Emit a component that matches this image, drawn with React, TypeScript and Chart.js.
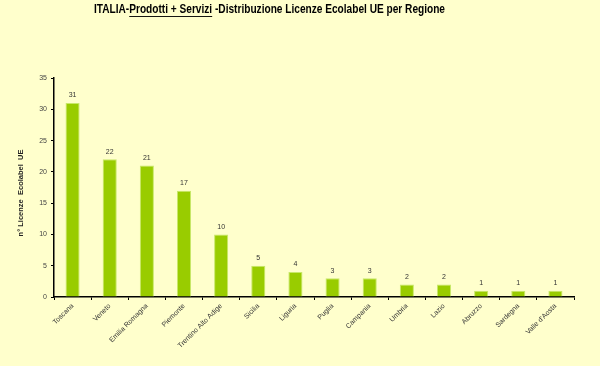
import React, { useEffect, useRef } from "react";
import { Chart, registerables } from "chart.js";

Chart.register(...registerables);

const regions = [
  "Toscana",
  "Veneto",
  "Emilia Romagna",
  "Piemonte",
  "Trentino Alto Adige",
  "Sicilia",
  "Liguria",
  "Puglia",
  "Campania",
  "Umbria",
  "Lazio",
  "Abruzzo",
  "Sardegna",
  "Valle d'Aosta",
];
const licenses = [31, 22, 21, 17, 10, 5, 4, 3, 3, 2, 2, 1, 1, 1];
const yTicks = [0, 5, 10, 15, 20, 25, 30, 35];

const titlePre = "ITALIA-";
const titleUnder = "Prodotti + Servizi";
const titlePost = " -Distribuzione Licenze Ecolabel UE per Regione";
const yTitle = "n° Licenze  Ecolabel  UE";

const BG = "#FFFFCC";

const decorPlugin = {
  id: "decor",
  beforeDraw(chart: any) {
    const { ctx, width, height } = chart;
    ctx.save();
    ctx.fillStyle = BG;
    ctx.fillRect(0, 0, width, height);
    ctx.restore();
  },
  afterDraw(chart: any) {
    const { ctx } = chart;
    // title
    ctx.save();
    ctx.font = "bold 12px 'Liberation Sans', Arial, sans-serif";
    ctx.fillStyle = "#000";
    ctx.textBaseline = "middle";
    const w1 = ctx.measureText(titlePre).width;
    const w2 = ctx.measureText(titleUnder).width;
    const w3 = ctx.measureText(titlePost).width;
    const total = w1 + w2 + w3;
    const target = 351;
    const sx = target / total;
    const x0 = 94;
    const y0 = 10;
    ctx.translate(x0, y0);
    ctx.scale(sx, 1);
    ctx.textAlign = "left";
    ctx.fillText(titlePre, 0, 0);
    ctx.fillText(titleUnder, w1, 0);
    ctx.fillText(titlePost, w1 + w2, 0);
    ctx.strokeStyle = "#000";
    ctx.lineWidth = 1;
    ctx.beginPath();
    ctx.moveTo(w1, 6.5);
    ctx.lineTo(w1 + w2, 6.5);
    ctx.stroke();
    ctx.restore();

    // y title
    ctx.save();
    ctx.font = "bold 7.5px 'Liberation Sans', Arial, sans-serif";
    ctx.fillStyle = "#222";
    ctx.textAlign = "center";
    ctx.textBaseline = "middle";
    ctx.translate(21, 193);
    ctx.rotate(-Math.PI / 2);
    ctx.fillText(yTitle, 0, 0);
    ctx.restore();

    // value labels
    const meta = chart.getDatasetMeta(0);
    ctx.save();
    ctx.font = "7px 'Liberation Sans', Arial, sans-serif";
    ctx.fillStyle = "#333";
    ctx.textAlign = "center";
    ctx.textBaseline = "bottom";
    meta.data.forEach((bar: any, i: number) => {
      ctx.fillText(String(licenses[i]), bar.x, bar.y - 4);
    });
    ctx.restore();
  },
};

export default function App() {
  const ref = useRef<HTMLCanvasElement>(null);
  useEffect(() => {
    document.body.style.margin = "0";
    document.body.style.background = BG;
    const canvas = ref.current!;
    const chart = new Chart(canvas, {
      type: "bar",
      data: {
        labels: regions,
        datasets: [
          {
            data: licenses,
            backgroundColor: "#99CC00",
            borderColor: "#C8E86A",
            borderWidth: 1,
            categoryPercentage: 1,
            barPercentage: 0.38,
          },
        ],
      },
      options: {
        responsive: false,
        animation: false,
        devicePixelRatio: 1,
        layout: { padding: { top: 78, right: 26, left: 0, bottom: 0 } },
        plugins: {
          legend: { display: false },
          title: { display: false },
          tooltip: { enabled: false },
        },
        scales: {
          x: {
            offset: true,
            grid: {
              display: true,
              offset: true,
              drawOnChartArea: false,
              drawTicks: true,
              tickLength: 3,
              color: "#000",
            },
            border: { display: true, color: "#000", width: 1.5 },
            ticks: {
              autoSkip: false,
              minRotation: 45,
              maxRotation: 45,
              padding: 2,
              color: "#333",
              font: { size: 7, family: "'Liberation Sans', Arial, sans-serif" },
            },
            afterFit(scale: any) {
              scale.height = 69;
            },
          },
          y: {
            min: 0,
            max: 35,
            afterBuildTicks(scale: any) {
              scale.ticks = yTicks.map((v) => ({ value: v }));
            },
            grid: {
              display: true,
              drawOnChartArea: false,
              drawTicks: true,
              tickLength: 3,
              color: "#000",
            },
            border: { display: true, color: "#000", width: 1.5 },
            ticks: {
              padding: 4,
              color: "#444",
              font: { size: 7, family: "'Liberation Sans', Arial, sans-serif" },
            },
            afterFit(scale: any) {
              scale.width = 54;
            },
          },
        },
      },
      plugins: [decorPlugin],
    });
    return () => chart.destroy();
  }, []);
  return (
    <div style={{ width: 600, height: 366, background: BG }}>
      <canvas ref={ref} width={600} height={366} style={{ display: "block" }} />
    </div>
  );
}
